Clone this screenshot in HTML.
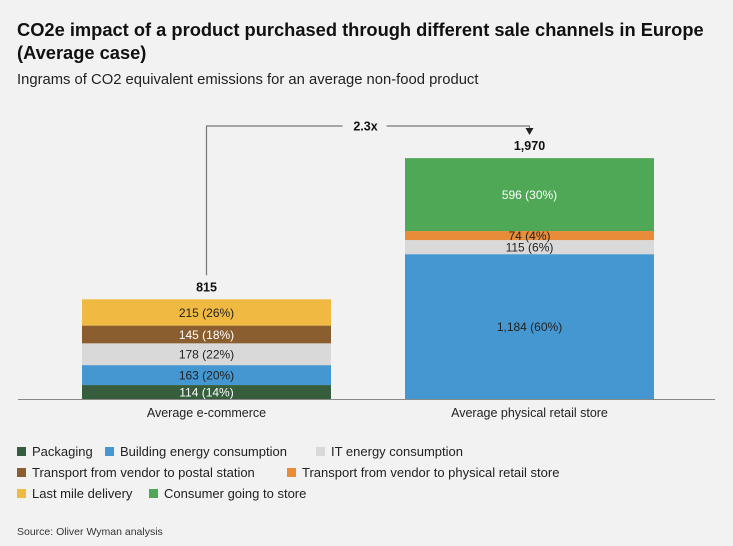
<!DOCTYPE html>
<html><head><meta charset="utf-8"><style>
body{margin:0;background:#f2f2f2;font-family:"Liberation Sans",sans-serif;}
#wrap{position:relative;width:733px;height:546px;background:#f2f2f2;overflow:hidden}
.t{position:absolute;left:17px;font-weight:bold;font-size:18.3px;line-height:23px;color:#111}
</style></head><body>
<div id="wrap">
<div class="t" style="top:18px">CO2e impact of a product purchased through different sale channels in Europe<br>(Average case)</div>
<div style="position:absolute;left:17px;top:72px;font-size:14.8px;color:#222">Ingrams of CO2 equivalent emissions for an average non-food product</div>
<svg id="c" width="733" height="546" style="position:absolute;left:0;top:0"></svg>
</div>
<script>
const categories=["Average e-commerce","Average physical retail store"];
const seriesNames=["Packaging","Building energy consumption","IT energy consumption","Transport from vendor to postal station","Transport from vendor to physical retail store","Last mile delivery","Consumer going to store"];
const seriesColors=["#365e3c","#4597d1","#d9d9d9","#8b5e2f","#e88c3a","#f0b942","#4ea856"];
const labelColors=["#fff","#222","#222","#fff","#222","#222","#fff"];
const ecomValues=[114,163,178,145,0,215,0];
const storeValues=[0,1184,115,0,74,0,596];
const ecomPct=[14,20,22,18,0,26,0];
const storePct=[0,60,6,0,4,0,30];
const totals=[815,1970];
const multiplier="2.3x";
const svg=document.getElementById('c');const NS="http://www.w3.org/2000/svg";
function mk(tag,attrs,txt){const e=document.createElementNS(NS,tag);for(const k in attrs)e.setAttribute(k,attrs[k]);if(txt!==undefined)e.textContent=txt;svg.appendChild(e);return e;}
const baseY=399,plotH=241,maxV=1970;
function y(v){return baseY-v/maxV*plotH;}
const barX=[82,405],barW=249;
function cx(i){return barX[i]+barW/2;}
const fmt=v=>v.toLocaleString('en-US');
[ecomValues,storeValues].forEach((vals,i)=>{
  const pcts=i?storePct:ecomPct;let acc=0;
  vals.forEach((v,s)=>{if(!v)return;
    const y0=y(acc),y1=y(acc+v);acc+=v;
    const r=mk('rect',{x:barX[i],y:y1,width:barW,height:y0-y1,fill:seriesColors[s]});
    
    
    const tx=mk('text',{x:cx(i),y:(y0+y1)/2+4.5,'text-anchor':'middle','font-size':12,fill:labelColors[s]},fmt(v)+' ('+pcts[s]+'%)');
    
    
  });
  const tt=mk('text',{x:cx(i),y:y(totals[i])-8,'text-anchor':'middle','font-size':12.5,'font-weight':'bold',fill:'#111'},fmt(totals[i]));
  
  
  const cl=mk('text',{x:cx(i),y:417,'text-anchor':'middle','font-size':12.5,fill:'#222'},categories[i]);
  
  
});
const ax=mk('line',{x1:18,x2:715,y1:baseY+0.5,y2:baseY+0.5,stroke:'#888','stroke-width':1});


const topY=126,leftTop=y(totals[0])-24,rightTop=y(totals[1])-24;
const p=mk('path',{d:`M${cx(0)},${leftTop} V${topY} H${cx(0)+136} M${cx(0)+180},${topY} H${cx(1)} V${rightTop-5}`,fill:'none',stroke:'#777','stroke-width':1.2});


const ar=mk('path',{d:`M${cx(1)-4},${rightTop-6} L${cx(1)+4},${rightTop-6} L${cx(1)},${rightTop+1}Z`,fill:'#222'});


const mt=mk('text',{x:cx(0)+159,y:topY+4.5,'text-anchor':'middle','font-size':12.5,'font-weight':'bold',fill:'#111'},multiplier);


const legendPos=[[17,456],[105,456],[316,456],[17,477],[287,477],[17,498],[149,498]];
seriesNames.forEach((n,s)=>{const[lx,ly]=legendPos[s];
  const g=mk('rect',{x:lx,y:ly-9,width:9,height:9,fill:seriesColors[s]});
  
  
  const t=mk('text',{x:lx+15,y:ly,'font-size':13,fill:'#222'},n);
  
  
});
const src=mk('text',{x:17,y:535,'font-size':10.5,fill:'#333'},'Source:    Oliver Wyman analysis');


</script>
</body></html>
